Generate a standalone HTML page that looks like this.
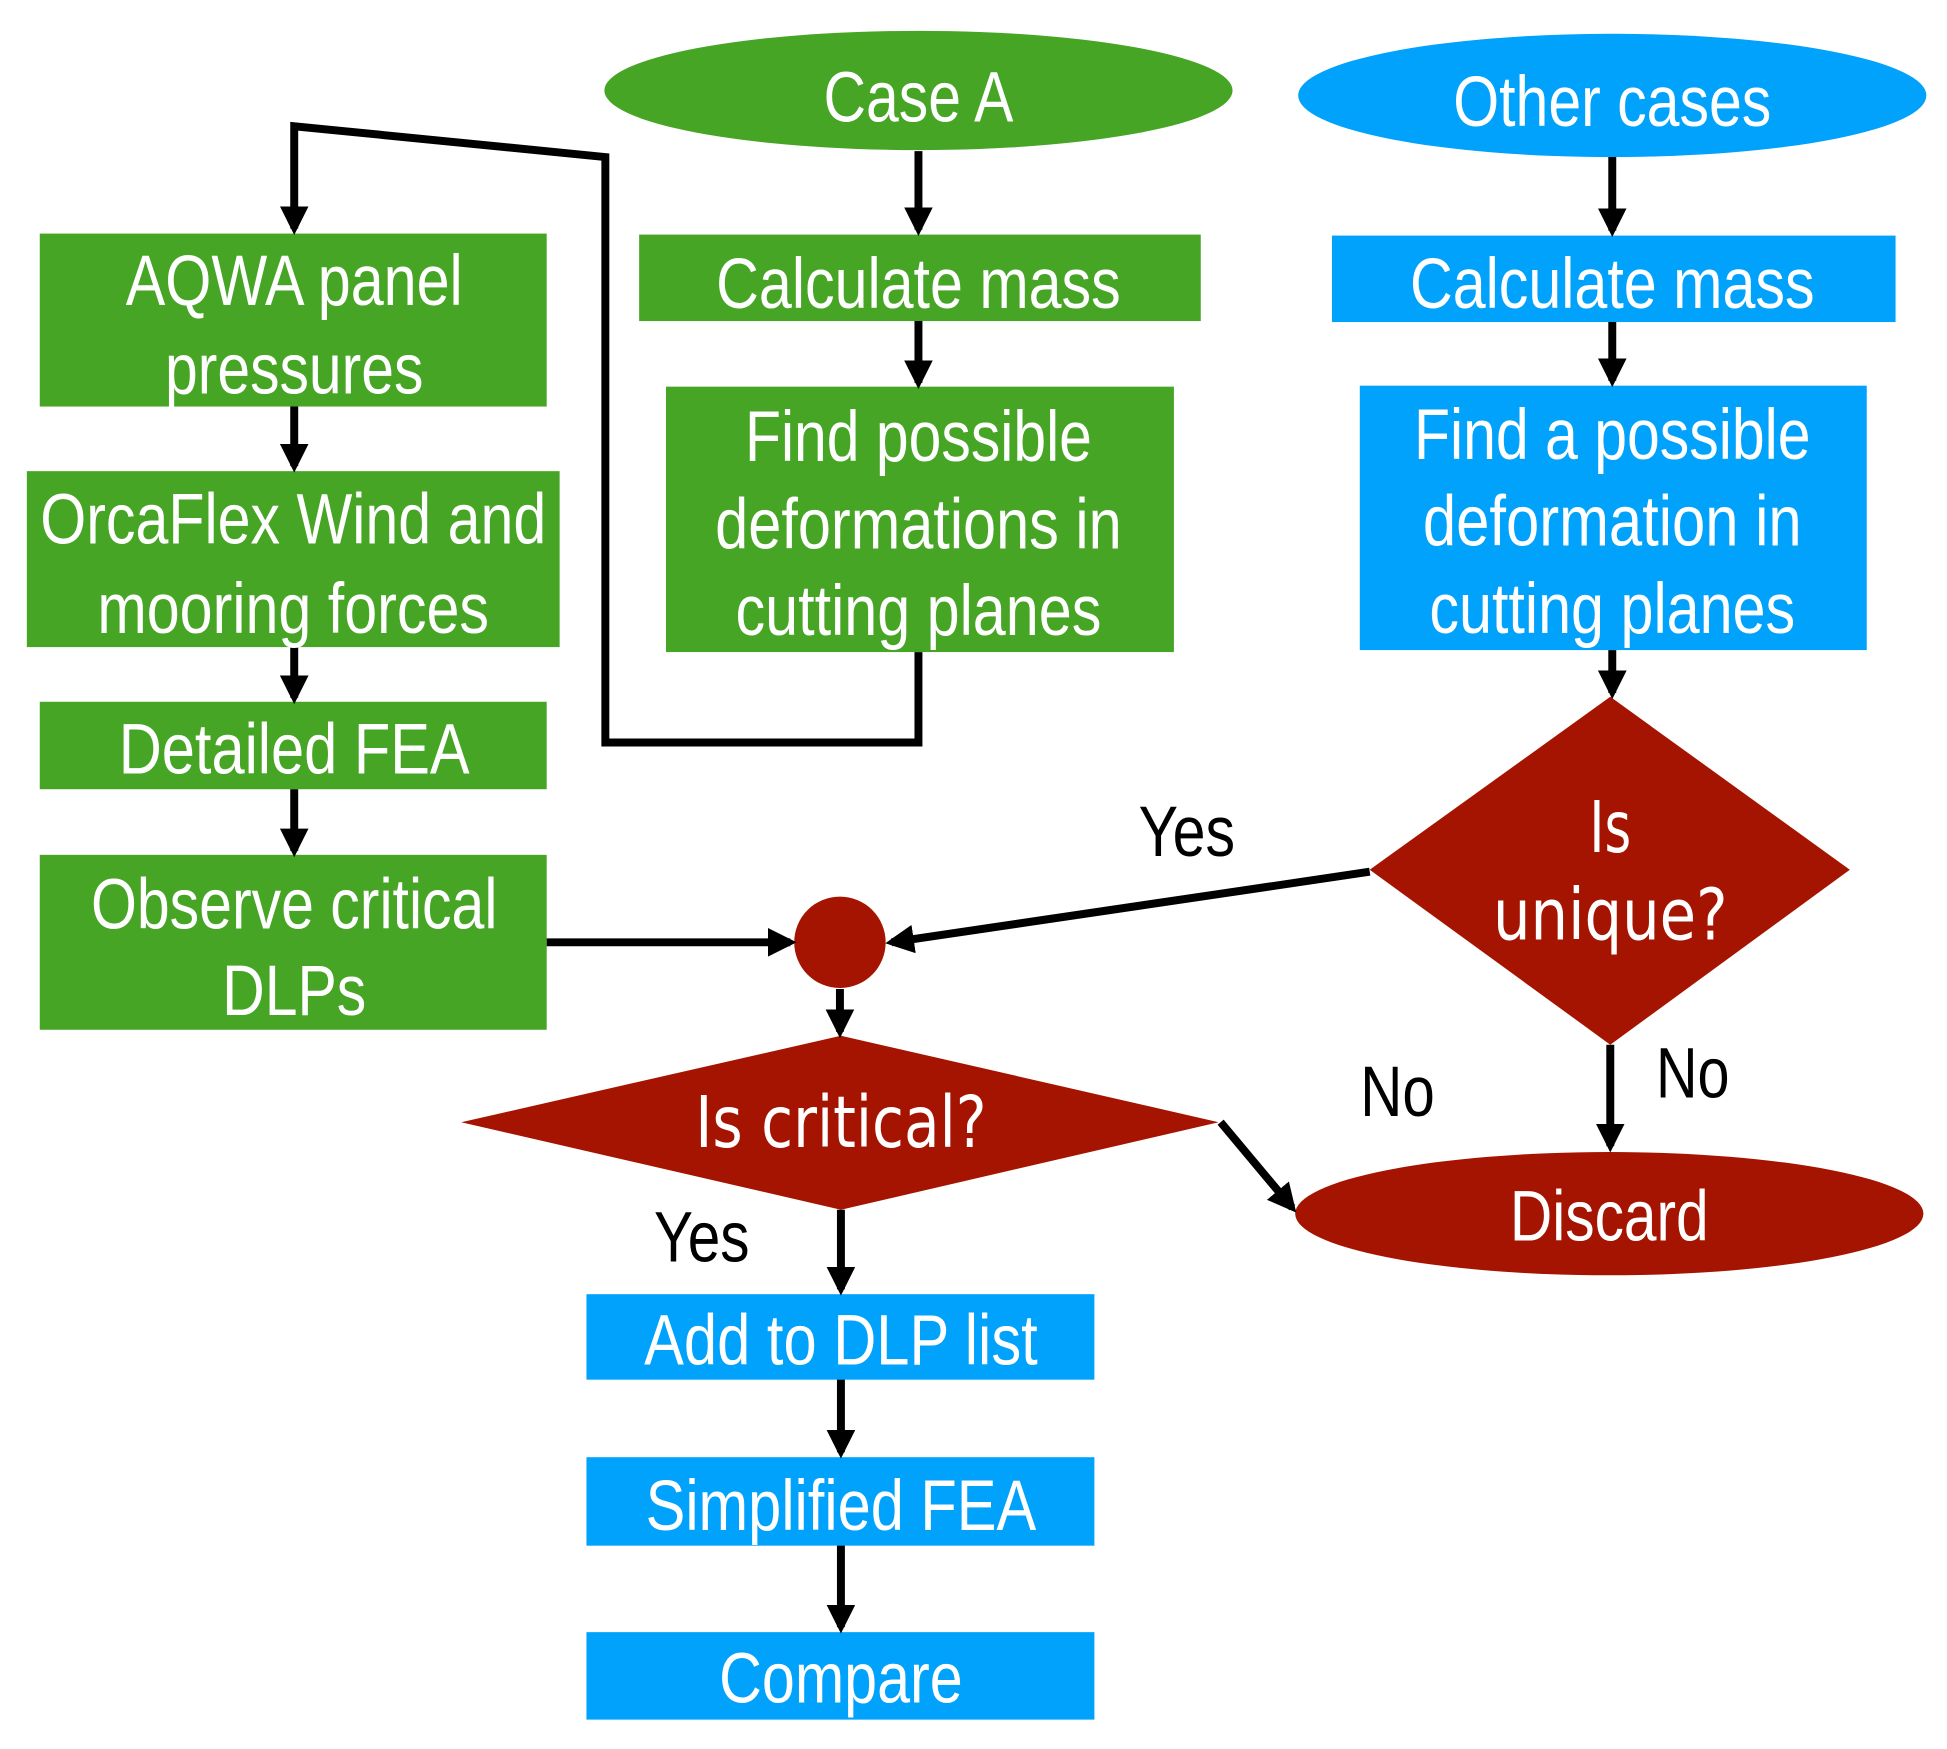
<!DOCTYPE html>
<html><head><meta charset="utf-8"><style>
html,body{margin:0;padding:0;background:#fff}
svg{display:block}
text{font-family:"Liberation Sans Narrow","Liberation Sans",sans-serif;fill:#fff;font-size:72px;text-anchor:middle}
.k{fill:#000}
.c{font-family:"DejaVu Sans","Liberation Sans",sans-serif}
</style></head><body>
<svg width="1947" height="1749" viewBox="0 0 1947 1749" xmlns="http://www.w3.org/2000/svg">
<defs>
<marker id="a" markerWidth="3.6" markerHeight="3.6" refX="2.8" refY="1.8" orient="auto" markerUnits="strokeWidth">
<path d="M0,0 L3.6,1.8 L0,3.6 z" fill="#000"/></marker>
</defs>
<g transform="scale(0.994)">
<g fill="#46a524">
<ellipse cx="924" cy="91" rx="316" ry="60"/>
<rect x="40" y="235" width="510" height="174"/>
<rect x="27" y="474" width="536" height="177"/>
<rect x="40" y="706" width="510" height="88"/>
<rect x="40" y="860" width="510" height="176"/>
<rect x="643" y="236" width="565" height="87"/>
<rect x="670" y="389" width="511" height="267"/>
</g>
<g fill="#00a2fb">
<ellipse cx="1622" cy="96" rx="316" ry="62"/>
<rect x="1340" y="237" width="567" height="87"/>
<rect x="1368" y="388" width="510" height="266"/>
<rect x="590" y="1302" width="511" height="86"/>
<rect x="590" y="1466" width="511" height="89"/>
<rect x="590" y="1642" width="511" height="88"/>
</g>
<g fill="#a51400">
<polygon points="1620,701 1861,875 1620,1051 1378,875"/>
<circle cx="845" cy="948" r="46"/>
<polygon points="846,1042 1226,1129 846,1217 464,1129"/>
<ellipse cx="1619" cy="1221" rx="316" ry="62"/>
</g>
<g stroke="#000" stroke-width="8" fill="none">
<line x1="924" y1="152" x2="924" y2="231" marker-end="url(#a)"/>
<line x1="924" y1="323" x2="924" y2="385" marker-end="url(#a)"/>
<line x1="1622" y1="158" x2="1622" y2="232" marker-end="url(#a)"/>
<line x1="1622" y1="324" x2="1622" y2="383" marker-end="url(#a)"/>
<line x1="1622" y1="654" x2="1622" y2="697" marker-end="url(#a)"/>
<polyline points="924,656 924,747 609,747 609,158 296,127 296,230" marker-end="url(#a)"/>
<line x1="296" y1="409" x2="296" y2="469" marker-end="url(#a)"/>
<line x1="296" y1="651" x2="296" y2="702" marker-end="url(#a)"/>
<line x1="296" y1="794" x2="296" y2="856" marker-end="url(#a)"/>
<line x1="550" y1="948" x2="795" y2="948" marker-end="url(#a)"/>
<line x1="1378" y1="877" x2="897" y2="948" marker-end="url(#a)"/>
<line x1="845" y1="995" x2="845" y2="1038" marker-end="url(#a)"/>
<line x1="1620" y1="1051" x2="1620" y2="1153" marker-end="url(#a)"/>
<line x1="1228" y1="1129" x2="1300" y2="1215" marker-end="url(#a)"/>
<line x1="846" y1="1217" x2="846" y2="1297" marker-end="url(#a)"/>
<line x1="846" y1="1388" x2="846" y2="1461" marker-end="url(#a)"/>
<line x1="846" y1="1555" x2="846" y2="1637" marker-end="url(#a)"/>
</g>
<text x="924" y="122" textLength="191" lengthAdjust="spacingAndGlyphs">Case A</text>
<text x="1622" y="127" textLength="320" lengthAdjust="spacingAndGlyphs">Other cases</text>
<text x="296" y="307" textLength="339" lengthAdjust="spacingAndGlyphs">AQWA panel</text>
<text x="296" y="396" textLength="260" lengthAdjust="spacingAndGlyphs">pressures</text>
<text x="295" y="547" textLength="509" lengthAdjust="spacingAndGlyphs">OrcaFlex Wind and</text>
<text x="295" y="637" textLength="394" lengthAdjust="spacingAndGlyphs">mooring forces</text>
<text x="296" y="778" textLength="353" lengthAdjust="spacingAndGlyphs">Detailed FEA</text>
<text x="296" y="934" textLength="409" lengthAdjust="spacingAndGlyphs">Observe critical</text>
<text x="296" y="1021" textLength="145" lengthAdjust="spacingAndGlyphs">DLPs</text>
<text x="924" y="310" textLength="407" lengthAdjust="spacingAndGlyphs">Calculate mass</text>
<text x="924" y="464" textLength="349" lengthAdjust="spacingAndGlyphs">Find possible</text>
<text x="924" y="552" textLength="409" lengthAdjust="spacingAndGlyphs">deformations in</text>
<text x="924" y="639" textLength="368" lengthAdjust="spacingAndGlyphs">cutting planes</text>
<text x="1622" y="310" textLength="407" lengthAdjust="spacingAndGlyphs">Calculate mass</text>
<text x="1622" y="462" textLength="399" lengthAdjust="spacingAndGlyphs">Find a possible</text>
<text x="1622" y="549" textLength="381" lengthAdjust="spacingAndGlyphs">deformation in</text>
<text x="1622" y="637" textLength="368" lengthAdjust="spacingAndGlyphs">cutting planes</text>
<text class="c" x="1620" y="857" font-size="58" textLength="42" lengthAdjust="spacingAndGlyphs">Is</text>
<text class="c" x="1620" y="945" font-size="58" textLength="236" lengthAdjust="spacingAndGlyphs">unique?</text>
<text class="c" x="846" y="1154" font-size="58" textLength="293" lengthAdjust="spacingAndGlyphs">Is critical?</text>
<text x="1619" y="1248" textLength="200" lengthAdjust="spacingAndGlyphs">Discard</text>
<text x="846" y="1373" textLength="396" lengthAdjust="spacingAndGlyphs">Add to DLP list</text>
<text x="846" y="1539" textLength="393" lengthAdjust="spacingAndGlyphs">Simplified FEA</text>
<text x="846" y="1713" textLength="245" lengthAdjust="spacingAndGlyphs">Compare</text>
<text class="k" x="1194" y="861" textLength="97" lengthAdjust="spacingAndGlyphs">Yes</text>
<text class="k" x="1406" y="1123" textLength="75" lengthAdjust="spacingAndGlyphs">No</text>
<text class="k" x="1703" y="1104" textLength="74" lengthAdjust="spacingAndGlyphs">No</text>
<text class="k" x="706" y="1269" textLength="96" lengthAdjust="spacingAndGlyphs">Yes</text>
</g>
</svg>
</body></html>
